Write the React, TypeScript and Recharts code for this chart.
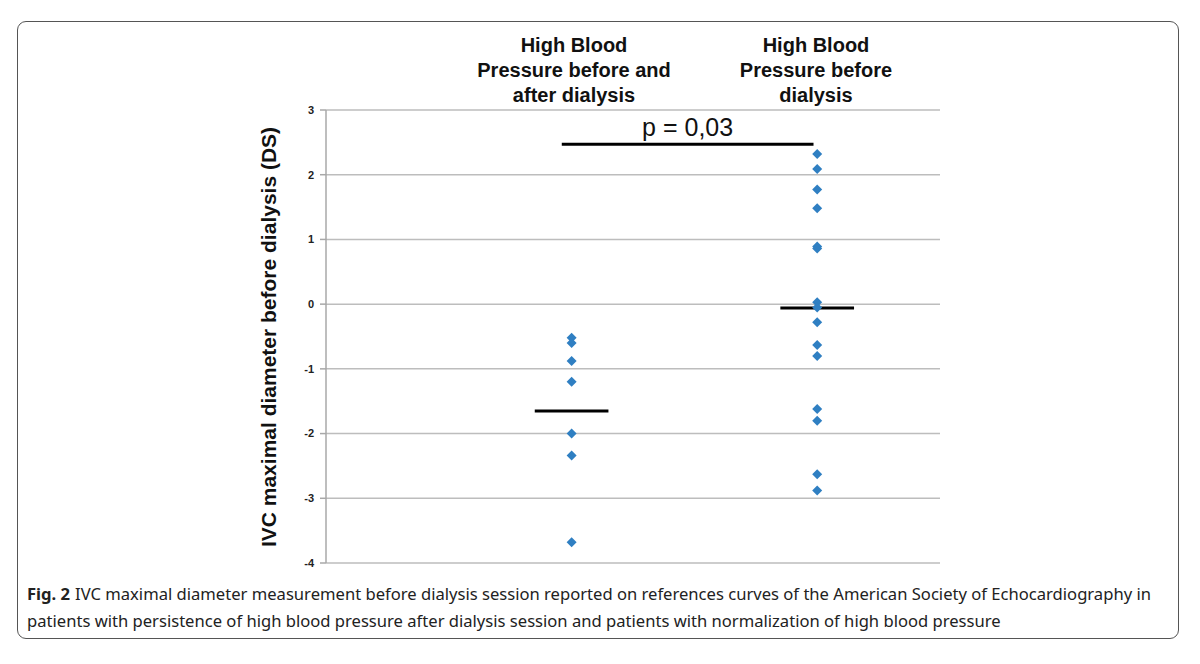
import { ComposedChart, Scatter, XAxis, YAxis, CartesianGrid, ReferenceLine } from 'recharts'

// group positions on the numeric x axis
const groupX = [1, 2]
const groupTitles = [
  ['High Blood', 'Pressure before and', 'after dialysis'],
  ['High Blood', 'Pressure before', 'dialysis'],
]

// IVC diameter (DS)
const persistentHBP = [-0.52, -0.6, -0.88, -1.2, -2.0, -2.34, -3.68]
const normalizedHBP = [2.32, 2.09, 1.77, 1.48, 0.89, 0.86, 0.03, -0.05, -0.28, -0.63, -0.8, -1.62, -1.8, -2.63, -2.88]
const groupMeans = [-1.65, -0.06]

const yTicks = [3, 2, 1, 0, -1, -2, -3, -4]
const pLabel = 'p = 0,03'
const pLineY = 2.47

const captionLines = [
  'IVC maximal diameter measurement before dialysis session reported on references curves of the American Society of Echocardiography in',
  'patients with persistence of high blood pressure after dialysis session and patients with normalization of high blood pressure',
]

const Diamond = (props: any) => {
  const { cx, cy } = props
  if (cx == null || cy == null) return null
  const r = 5
  return <path d={`M${cx},${cy - r}L${cx + r},${cy}L${cx},${cy + r}L${cx - r},${cy}Z`} fill="#2f7fc2" />
}

export default function App() {
  const data1 = persistentHBP.map((v) => ({ x: groupX[0], y: v }))
  const data2 = normalizedHBP.map((v) => ({ x: groupX[1], y: v }))
  const half = 0.15

  return (
    <div style={{ position: 'absolute', left: 0, top: 0, width: 1200, height: 664, background: '#fff', fontFamily: 'Liberation Sans, Arial, sans-serif' }}>
      <div style={{ position: 'absolute', left: 17, top: 21, width: 1160, height: 616, border: '1.5px solid #555', borderRadius: 9 }} />
      <ComposedChart width={1200} height={664} margin={{ top: 110, right: 260, bottom: 101, left: 286 }}>
        <CartesianGrid vertical={false} stroke="#bdbdbd" strokeWidth={1.5} />
        <XAxis type="number" dataKey="x" domain={[0, 2.5]} hide />
        <YAxis
          type="number"
          dataKey="y"
          domain={[-4, 3]}
          ticks={yTicks}
          width={40}
          interval={0}
          axisLine={{ stroke: '#a8a8a8', strokeWidth: 1.5 }}
          tickLine={{ stroke: '#a8a8a8', strokeWidth: 1.5 }}
          tickSize={6}
          tickMargin={6}
          tick={{ fill: '#222', fontSize: 11, fontWeight: 700 }}
        />
        {groupMeans.map((m, i) => (
          <ReferenceLine
            key={i}
            segment={[{ x: groupX[i] - half, y: m }, { x: groupX[i] + half, y: m }]}
            stroke="#000"
            strokeWidth={3}
          />
        ))}
        <ReferenceLine
          segment={[{ x: 0.96, y: pLineY }, { x: 1.985, y: pLineY }]}
          stroke="#000"
          strokeWidth={3}
          label={{ value: pLabel, position: 'top', offset: 8, fill: '#111', fontSize: 25 }}
        />
        <Scatter data={data1} shape={<Diamond />} isAnimationActive={false} />
        <Scatter data={data2} shape={<Diamond />} isAnimationActive={false} />
      </ComposedChart>
      {groupTitles.map((lines, i) => (
        <div
          key={i}
          style={{
            position: 'absolute',
            left: (i === 0 ? 574 : 816) - 120,
            top: 33,
            width: 240,
            textAlign: 'center',
            fontSize: 20,
            fontWeight: 700,
            lineHeight: '25px',
            color: '#111',
          }}
        >
          {lines.map((l, j) => (
            <div key={j}>{l}</div>
          ))}
        </div>
      ))}
      <div
        style={{
          position: 'absolute',
          left: 269 - 250,
          top: 337 - 13,
          width: 500,
          height: 26,
          lineHeight: '26px',
          textAlign: 'center',
          transform: 'rotate(-90deg)',
          fontSize: 21,
          fontWeight: 700,
          color: '#111',
          whiteSpace: 'nowrap',
        }}
      >
        IVC maximal diameter before dialysis (DS)
      </div>
      <div
        style={{
          position: 'absolute',
          left: 27,
          top: 580,
          width: 1150,
          fontFamily: 'Noto Sans, sans-serif',
          fontSize: 16.6,
          lineHeight: '27px',
          color: '#222',
          whiteSpace: 'nowrap',
        }}
      >
        <div>
          <b style={{ marginRight: 5 }}>Fig. 2</b>
          <span>{captionLines[0]}</span>
        </div>
        <div>{captionLines[1]}</div>
      </div>
    </div>
  )
}
